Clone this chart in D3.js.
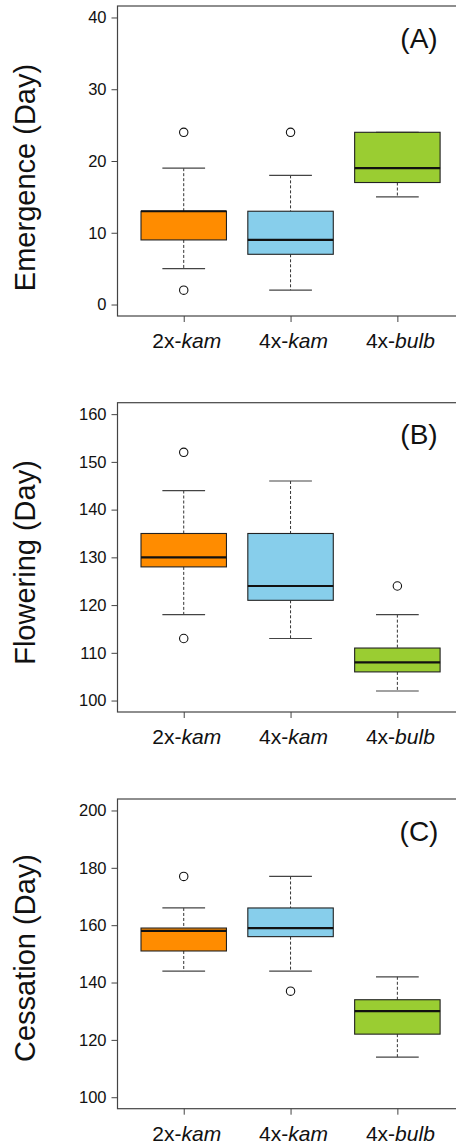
<!DOCTYPE html>
<html>
<head>
<meta charset="utf-8">
<script src="https://cdn.jsdelivr.net/npm/d3@7"></script>
<style>
  body { margin: 0; background: #fff; }
  svg { display: block; font-family: "Liberation Sans", Arial, sans-serif; }
</style>
</head>
<body>
<div id="chart"></div>
<script>
// Groupes
const groups = ["2x-kam", "4x-kam", "4x-bulb"];
const groupColors = ["#FF8C00", "#87CEEB", "#9ACD32"];

// Statistiques : [min, Q1, médiane, Q3, max]
const emergenceStats = [[5, 9, 13, 13, 19], [2, 7, 9, 13, 18], [15, 17, 19, 24, 24]];
const emergenceOutliers = [[24, 2], [24], []];
const emergenceTicks = [0, 10, 20, 30, 40];

const floweringStats = [[118, 128, 130, 135, 144], [113, 121, 124, 135, 146], [102, 106, 108, 111, 118]];
const floweringOutliers = [[152, 113], [], [124]];
const floweringTicks = [100, 110, 120, 130, 140, 150, 160];

const cessationStats = [[144, 151, 158, 159, 166], [144, 156, 159, 166, 177], [114, 122, 130, 134, 142]];
const cessationOutliers = [[177], [137], []];
const cessationTicks = [100, 120, 140, 160, 180, 200];

const panels = [
  { label: "(A)", title: "Emergence (Day)", stats: emergenceStats, outliers: emergenceOutliers, ticks: emergenceTicks, top: 6, bottom: 316, titleY: 177.5 },
  { label: "(B)", title: "Flowering (Day)", stats: floweringStats, outliers: floweringOutliers, ticks: floweringTicks, top: 402.7, bottom: 712, titleY: 562.5 },
  { label: "(C)", title: "Cessation (Day)", stats: cessationStats, outliers: cessationOutliers, ticks: cessationTicks, top: 799, bottom: 1108.7, titleY: 958 }
];

const width = 456;
const height = 1146;
const left = 117.5;

const svg = d3.select("#chart").append("svg")
  .attr("width", width)
  .attr("height", height);

// Échelle x commune (façon R : 0.5..3.5 étendu de 4 %)
const x = d3.scaleLinear().domain([0.38, 3.62]).range([left, 463.6]);
const step = x(2) - x(1);

panels.forEach((p) => {
  const lo = d3.min(p.ticks), hi = d3.max(p.ticks);
  const pad = (hi - lo) * 0.04;
  const y = d3.scaleLinear().domain([lo - pad, hi + pad]).range([p.bottom, p.top]);

  const g = svg.append("g");

  // Cadre
  g.append("rect")
    .attr("x", left).attr("y", p.top)
    .attr("width", x(3.62) - left).attr("height", p.bottom - p.top)
    .attr("fill", "none").attr("stroke", "#444").attr("stroke-width", 1.2);

  // Axe y
  const yAxis = g.append("g")
    .attr("transform", `translate(${left},0)`)
    .call(d3.axisLeft(y).tickValues(p.ticks).tickSize(6).tickPadding(5).tickFormat(d3.format("d")));
  yAxis.select(".domain").remove();
  yAxis.selectAll(".tick line").attr("stroke", "#444");
  yAxis.selectAll(".tick text").attr("font-size", 16.5).attr("fill", "#111").attr("font-family", null);

  // Axe x
  const xAxis = g.append("g")
    .attr("transform", `translate(0,${p.bottom})`)
    .call(d3.axisBottom(x).tickValues([1, 2, 3]).tickSize(6).tickFormat(() => ""));
  xAxis.select(".domain").remove();
  xAxis.selectAll(".tick line").attr("stroke", "#444");

  // Noms des groupes (partie en italique)
  groups.forEach((name, i) => {
    const parts = name.split("-");
    const t = g.append("text")
      .attr("x", x(i + 1) + 3).attr("y", p.bottom + 32.3)
      .attr("text-anchor", "middle")
      .attr("font-size", 21).attr("fill", "#111");
    t.append("tspan").text(parts[0] + "-");
    t.append("tspan").attr("font-style", "italic").text(parts[1]);
  });

  // Titre de l'axe y
  g.append("text")
    .attr("transform", `translate(35,${p.titleY}) rotate(-90)`)
    .attr("text-anchor", "middle")
    .attr("font-size", 29).attr("fill", "#111")
    .text(p.title);

  // Lettre du panneau
  g.append("text")
    .attr("x", 419).attr("y", p.top + 41.5)
    .attr("text-anchor", "middle")
    .attr("font-size", 28).attr("fill", "#111")
    .text(p.label);

  // Boîtes
  p.stats.forEach((s, i) => {
    const cx = x(i + 1);
    const bw = step * 0.8;
    const cw = step * 0.4;
    const [mn, q1, med, q3, mx] = s;

    // Moustaches pointillées
    g.append("line")
      .attr("x1", cx).attr("x2", cx).attr("y1", y(mx)).attr("y2", y(q3))
      .attr("stroke", "#333").attr("stroke-dasharray", "3,2");
    g.append("line")
      .attr("x1", cx).attr("x2", cx).attr("y1", y(q1)).attr("y2", y(mn))
      .attr("stroke", "#333").attr("stroke-dasharray", "3,2");

    // Extrémités
    [mn, mx].forEach((v) => {
      g.append("line")
        .attr("x1", cx - cw / 2).attr("x2", cx + cw / 2)
        .attr("y1", y(v)).attr("y2", y(v))
        .attr("stroke", "#444").attr("stroke-width", 1.2);
    });

    g.append("rect")
      .attr("x", cx - bw / 2).attr("y", y(q3))
      .attr("width", bw).attr("height", y(q1) - y(q3))
      .attr("fill", groupColors[i]).attr("stroke", "#222").attr("stroke-width", 1.1);

    g.append("line")
      .attr("x1", cx - bw / 2).attr("x2", cx + bw / 2)
      .attr("y1", y(med)).attr("y2", y(med))
      .attr("stroke", "#111").attr("stroke-width", 2.2);

    // Valeurs extrêmes
    g.selectAll(null).data(p.outliers[i]).join("circle")
      .attr("cx", cx).attr("cy", (d) => y(d)).attr("r", 4.2)
      .attr("fill", "#fff").attr("stroke", "#111").attr("stroke-width", 1.1);
  });
});
</script>
</body>
</html>
